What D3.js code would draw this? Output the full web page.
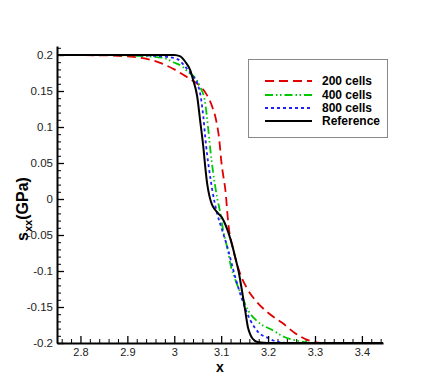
<!DOCTYPE html>
<html><head><meta charset="utf-8">
<script src="https://cdn.jsdelivr.net/npm/d3@7"></script>
<style>
body{margin:0;background:#fff;}
svg{display:block;font-family:"Liberation Sans",Arial,sans-serif;}
</style></head>
<body><div id="chart"></div>
<script>
const seriesNames = ["200 cells","400 cells","800 cells","Reference"];
const seriesColors = ["#e00000","#00c800","#2020ff","#000000"];
const seriesDash = ["9,5","8,3,1.5,2.5,1.5,3","3,3",null];

const red200 = [[2.75,0.2],[2.85,0.1995],[2.9,0.198],[2.93,0.196],[2.97,0.189],[3.0,0.18],[3.023,0.171],[3.040,0.164],[3.055,0.157],[3.068,0.146],[3.081,0.128],[3.089,0.110],[3.096,0.082],[3.100,0.054],[3.105,0.030],[3.109,0.0125],[3.115,-0.033],[3.126,-0.071],[3.140,-0.103],[3.155,-0.124],[3.176,-0.143],[3.200,-0.158],[3.230,-0.172],[3.257,-0.186],[3.285,-0.196],[3.306,-0.1995],[3.33,-0.2],[3.445,-0.2]];
const green400 = [[2.75,0.2],[2.85,0.1998],[2.9,0.1995],[2.93,0.1986],[2.977,0.196],[2.998,0.190],[3.019,0.183],[3.030,0.176],[3.045,0.168],[3.055,0.156],[3.066,0.133],[3.072,0.100],[3.077,0.068],[3.083,0.036],[3.091,0.003],[3.098,-0.019],[3.104,-0.043],[3.113,-0.068],[3.121,-0.094],[3.130,-0.112],[3.145,-0.136],[3.157,-0.154],[3.179,-0.171],[3.209,-0.182],[3.236,-0.192],[3.264,-0.1972],[3.285,-0.1995],[3.30,-0.2],[3.445,-0.2]];
const blue800 = [[2.75,0.2],[2.9,0.1998],[2.95,0.199],[2.998,0.196],[3.010,0.193],[3.023,0.184],[3.038,0.172],[3.049,0.161],[3.055,0.147],[3.062,0.114],[3.066,0.086],[3.070,0.062],[3.075,0.038],[3.081,0.0125],[3.091,-0.019],[3.102,-0.043],[3.115,-0.071],[3.126,-0.099],[3.136,-0.122],[3.147,-0.144],[3.162,-0.168],[3.179,-0.185],[3.200,-0.193],[3.221,-0.1986],[3.247,-0.2],[3.445,-0.2]];
const reference = [[2.75,0.2],[3.0,0.2],[3.013,0.198],[3.023,0.191],[3.034,0.179],[3.040,0.166],[3.049,0.142],[3.055,0.110],[3.062,0.072],[3.066,0.045],[3.070,0.022],[3.075,0.004],[3.080,-0.007],[3.087,-0.015],[3.095,-0.021],[3.102,-0.026],[3.108,-0.034],[3.115,-0.046],[3.123,-0.063],[3.130,-0.081],[3.137,-0.100],[3.144,-0.126],[3.151,-0.154],[3.157,-0.178],[3.162,-0.188],[3.166,-0.193],[3.172,-0.197],[3.180,-0.199],[3.2,-0.2],[3.445,-0.2]];
const seriesData = [red200, green400, blue800, reference];

const xTicks = [2.8,2.9,3.0,3.1,3.2,3.3,3.4];
const xTickLabels = ["2.8","2.9","3","3.1","3.2","3.3","3.4"];
const yTicks = [0.2,0.15,0.1,0.05,0,-0.05,-0.1,-0.15,-0.2];
const yTickLabels = ["0.2","0.15","0.1","0.05","0","-0.05","-0.1","-0.15","-0.2"];
const xDomain = [2.75, 3.445];
const yDomain = [-0.2, 0.2125];

const W = 436, H = 388;
const svg = d3.select("#chart").append("svg").attr("width", W).attr("height", H);
const x = d3.scaleLinear().domain(xDomain).range([57, 383]);
const y = d3.scaleLinear().domain(yDomain).range([343, 46]);

const xMinor = d3.range(2.76, 3.445, 0.02).filter(v => !xTicks.some(t => Math.abs(t - v) < 1e-6));
const yMinor = d3.range(-0.19, 0.2125, 0.01).filter(v => !yTicks.some(t => Math.abs(t - v) < 1e-6));

// minor ticks
svg.append("g").attr("transform", "translate(0,343)")
  .call(d3.axisBottom(x).tickValues(xMinor).tickSizeInner(-4).tickSizeOuter(0).tickFormat(""))
  .call(g => g.select(".domain").remove())
  .call(g => g.selectAll("line").attr("stroke", "#000"));
svg.append("g").attr("transform", "translate(57,0)")
  .call(d3.axisLeft(y).tickValues(yMinor).tickSizeInner(-4).tickSizeOuter(0).tickFormat(""))
  .call(g => g.select(".domain").remove())
  .call(g => g.selectAll("line").attr("stroke", "#000"));

// lines
const line = d3.line().x(d => x(d[0])).y(d => y(d[1])).curve(d3.curveMonotoneX);
seriesData.forEach((data, i) => {
  svg.append("path").datum(data)
    .attr("fill", "none")
    .attr("stroke", seriesColors[i])
    .attr("stroke-width", i === 3 ? 2 : 1.8)
    .attr("stroke-dasharray", seriesDash[i])
    .attr("d", line);
});

// major axes
const xAxis = svg.append("g").attr("transform", "translate(0,343)")
  .call(d3.axisBottom(x).tickValues(xTicks).tickSizeInner(-7).tickSizeOuter(0).tickPadding(5)
    .tickFormat((d, i) => xTickLabels[i]));
xAxis.select(".domain").attr("stroke-width", 2).attr("stroke", "#000");
xAxis.selectAll("line").attr("stroke-width", 1.3);
xAxis.selectAll("text").attr("font-size", 11).attr("fill", "#222").attr("font-family", "Liberation Sans, Arial, sans-serif");

const yAxis = svg.append("g").attr("transform", "translate(57,0)")
  .call(d3.axisLeft(y).tickValues(yTicks).tickSizeInner(-7).tickSizeOuter(0).tickPadding(4)
    .tickFormat((d, i) => yTickLabels[i]));
yAxis.select(".domain").attr("stroke-width", 2).attr("stroke", "#000");
yAxis.selectAll("line").attr("stroke-width", 1.3);
yAxis.selectAll("text").attr("font-size", 11.5).attr("fill", "#222").attr("font-family", "Liberation Sans, Arial, sans-serif");

// axis titles
svg.append("text").attr("x", 220).attr("y", 372).attr("text-anchor", "middle")
  .attr("font-size", 14).attr("font-weight", "bold").text("x");
const yl = svg.append("text").attr("transform", "translate(28,209) rotate(-90)")
  .attr("text-anchor", "middle").attr("font-size", 16).attr("font-weight", "bold");
yl.append("tspan").text("s");
yl.append("tspan").attr("font-size", 11).attr("dy", 4).text("xx");
yl.append("tspan").attr("dy", -4).text("(GPa)");

// legend
const lg = svg.append("g");
lg.append("rect").attr("x", 248.5).attr("y", 59.5).attr("width", 139).attr("height", 78)
  .attr("fill", "#fff").attr("stroke", "#888").attr("stroke-width", 1);
const rowY = [81, 95, 108, 121];
seriesNames.forEach((name, i) => {
  lg.append("line").attr("x1", 265).attr("x2", 312).attr("y1", rowY[i]).attr("y2", rowY[i])
    .attr("stroke", seriesColors[i]).attr("stroke-width", i === 3 ? 2 : 1.8)
    .attr("stroke-dasharray", seriesDash[i]);
  lg.append("text").attr("x", 322).attr("y", rowY[i]).attr("dy", "0.35em")
    .attr("font-size", 12).attr("font-weight", "bold").attr("fill", "#000").text(name);
});
</script></body></html>
